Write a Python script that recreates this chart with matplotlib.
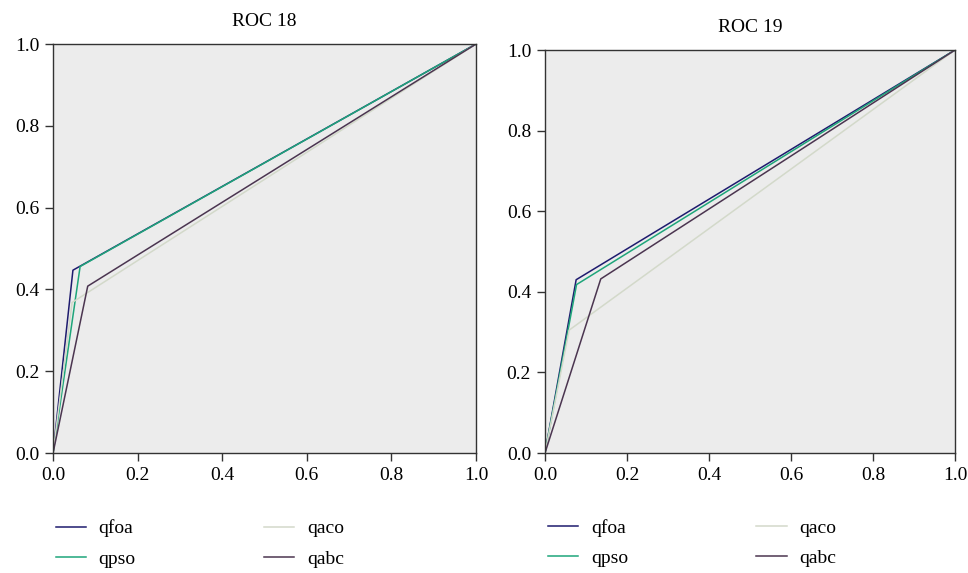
import numpy as np
import matplotlib
matplotlib.use("Agg")
import matplotlib.pyplot as plt

plt.rcParams['font.family'] = ['Liberation Serif', 'DejaVu Serif']

# ROC points (fpr, tpr)
names = ['qfoa', 'qpso', 'qaco', 'qabc']
colors = ['#1e1b6e', '#1ea57a', '#d3d9ca', '#4b3550']

fpr18 = [[0, 0.047, 1], [0, 0.064, 1], [0, 0.045, 1], [0, 0.082, 1]]
tpr18 = [[0, 0.447, 1], [0, 0.456, 1], [0, 0.368, 1], [0, 0.408, 1]]

fpr19 = [[0, 0.076, 1], [0, 0.077, 1], [0, 0.059, 1], [0, 0.136, 1]]
tpr19 = [[0, 0.430, 1], [0, 0.418, 1], [0, 0.305, 1], [0, 0.432, 1]]

ticks = [0.0, 0.2, 0.4, 0.6, 0.8, 1.0]

fig = plt.figure(figsize=(9.68, 5.73), dpi=100)
ax1 = fig.add_axes([0.0548, 0.2094, 0.4370, 0.7138])
ax2 = fig.add_axes([0.5630, 0.2094, 0.4236, 0.7033])

def draw(ax, fpr, tpr, title):
    ax.set_facecolor('#ececec')
    for n, c, x, y in zip(names, colors, fpr, tpr):
        ax.plot(x, y, color=c, lw=1.1, label=n)
    ax.set_xlim(0, 1)
    ax.set_ylim(0, 1)
    ax.set_xticks(ticks)
    ax.set_yticks(ticks)
    ax.set_xticklabels(['%.1f' % t for t in ticks])
    ax.set_yticklabels(['%.1f' % t for t in ticks])
    ax.tick_params(labelsize=14, length=6, width=1, color='#333333', pad=4)
    for s in ax.spines.values():
        s.set_color('#333333')
        s.set_linewidth(1)
    ax.set_title(title, fontsize=14, pad=13)
    ax.legend(loc='upper left', bbox_to_anchor=(-0.035, -0.12), ncol=2,
              frameon=False, fontsize=14, handlelength=1.55,
              columnspacing=6.6, labelspacing=0.65, handletextpad=0.65)

draw(ax1, fpr18, tpr18, 'ROC 18')
draw(ax2, fpr19, tpr19, 'ROC 19')

plt.savefig('out.png', dpi=100)
